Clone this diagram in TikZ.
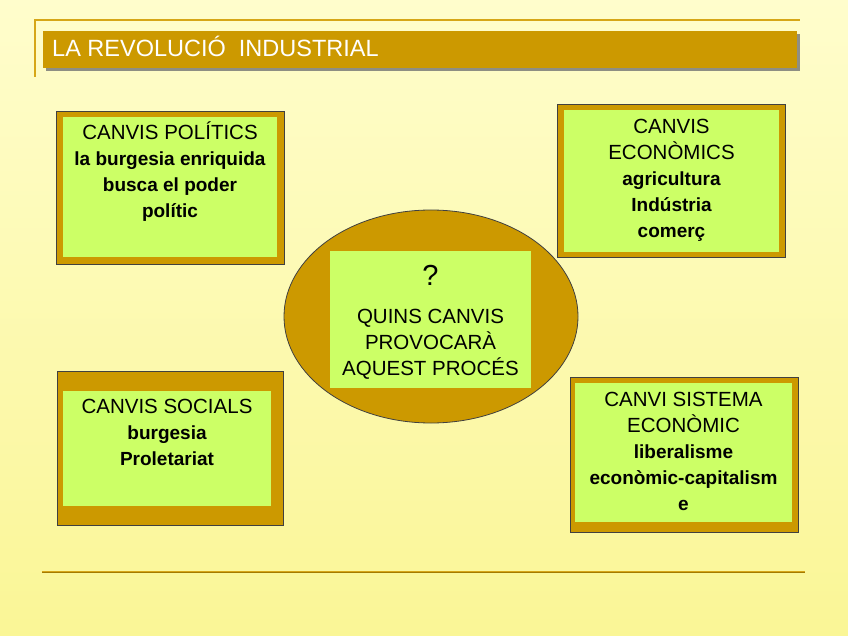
\documentclass[tikz,border=0pt]{standalone}
\usepackage{fontspec}
\setmainfont{Liberation Sans}
\usetikzlibrary{positioning,shapes.geometric,shadows}
\definecolor{gold}{RGB}{204,153,0}
\definecolor{boxgreen}{RGB}{204,255,102}
\definecolor{bgtop}{RGB}{255,253,204}
\definecolor{bgbot}{RGB}{250,246,150}
\definecolor{linegold}{RGB}{214,166,24}
\newcommand{\bl}[1]{{\fontsize{19}{26}\selectfont\bfseries #1}}
\begin{document}
\begin{tikzpicture}[x=1pt,y=-1pt,frame/.style={draw=black!75, fill=gold, line width=.8pt, inner sep=0pt},panel/.style={fill=boxgreen, inner sep=0pt},txt/.style={align=center, inner sep=0pt, font=\fontsize{20.5}{26}\selectfont, execute at begin node=\rule{0pt}{20pt}},rulebar/.style={linegold, line width=2.5pt}]
\shade[top color=bgtop, bottom color=bgbot] (0,0) rectangle (848,636); \useasboundingbox (0,0) rectangle (848,636);
\coordinate (tl) at (35,20); \coordinate (tr) at (800,20); \coordinate (tv) at (35,77);
\draw[rulebar, line width=2pt] (tv) -- (tl) -- (tr);
\node[fill=gold, inner sep=0pt, minimum width=754pt, minimum height=37pt, drop shadow={shadow xshift=3pt, shadow yshift=-3pt, fill=black!55, opacity=.8}] (bar) at (420,49.5) {};
\node[anchor=base west, inner sep=0pt, text=white, font=\fontsize{23.5}{26}\selectfont] (ttl) at (52,57) {LA REVOLUCIÓ\ \ INDUSTRIAL};
\coordinate (bl) at (42,572); \coordinate (br) at (805,572);
\draw[rulebar] (bl) -- (br); \draw[gold!80!black, line width=.8pt] (bl) -- (br);
% centre
\node[ellipse, frame, minimum width=294pt, minimum height=213pt] (elli) at (431,316.5) {};
\node[panel, minimum width=201pt, minimum height=137pt] (qin) at (430.5,319.5) {};
\node[anchor=base, inner sep=0pt, font=\fontsize{29}{29}\selectfont] (ques) at (430.5,285) {?};
\node[txt, below=58pt of qin.north] (qtxt) {QUINS CANVIS\\PROVOCARÀ\\AQUEST PROCÉS};
% politics
\node[frame, minimum width=228pt, minimum height=153pt] (polout) at (170,187.5) {};
\node[panel, minimum width=214pt, minimum height=140pt] (polin) at (170,187) {};
\node[txt, below=5pt of polin.north] (poltxt) {CANVIS POLÍTICS\\\bl{la burgesia enriquida}\\\bl{busca el poder}\\\bl{polític}};
% economy
\node[frame, minimum width=228pt, minimum height=153pt] (ecoout) at (671,180.5) {};
\node[panel, minimum width=215pt, minimum height=142pt] (ecoin) at (671.5,181) {};
\node[txt, below=9pt of ecoin.north] (ecotxt) {CANVIS\\ECONÒMICS\\\bl{agricultura}\\\bl{Indústria}\\\bl{comerç}};
% society
\node[frame, minimum width=226pt, minimum height=154pt] (socout) at (170,448) {};
\node[panel, minimum width=208pt, minimum height=115pt] (socin) at (167,448.5) {};
\node[txt, below=8pt of socin.north] (soctxt) {CANVIS SOCIALS\\\bl{burgesia}\\\bl{Proletariat}};
% system
\node[frame, minimum width=228pt, minimum height=155pt] (sysout) at (684,454.5) {};
\node[panel, minimum width=217pt, minimum height=139pt] (sysin) at (683.5,452.5) {};
\node[txt, below=9pt of sysin.north] (systxt) {CANVI SISTEMA\\ECONÒMIC\\\bl{liberalisme}\\\bl{econòmic-capitalism}\\\bl{e}};
\end{tikzpicture}
\end{document}
